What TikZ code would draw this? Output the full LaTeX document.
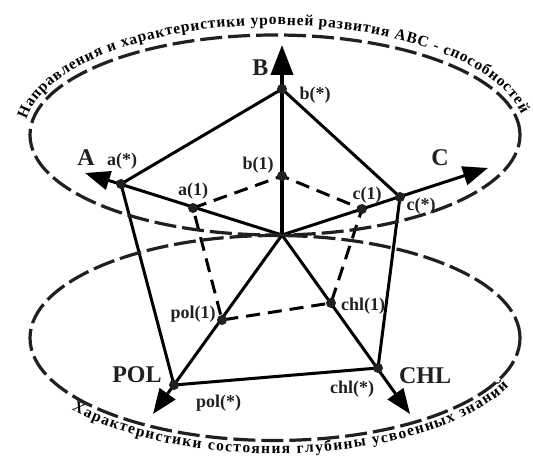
\documentclass[tikz,border=0pt]{standalone}
\usepackage{fontspec}
\setmainfont{Liberation Serif}
\usetikzlibrary{arrows.meta, decorations.text, backgrounds}
\definecolor{ink}{HTML}{231F20}
\newcommand{\arcfont}{\fontsize{15.5}{15.5}\selectfont\bfseries}

\begin{document}
\begin{tikzpicture}[x=1pt, y=1pt, color=ink,
    dot/.style={circle, fill=ink, inner sep=0pt, minimum size=10pt},
    lbl/.style={inner sep=0pt, font=\fontsize{18}{18}\selectfont\bfseries},
    big/.style={inner sep=0pt, font=\fontsize{24}{24}\selectfont\bfseries},
    axis/.style={line width=3pt, -{Triangle[length=25pt, width=19pt]}},
    outer/.style={line width=3pt, line join=round},
    inner/.style={line width=3pt, dash pattern=on 14pt off 8pt},
    ring/.style={line width=3.2pt, dash pattern=on 22pt off 6pt},
]
    \useasboundingbox (0,0) rectangle (533,458);

    % rings
    \draw[ring] (275,323) ellipse [x radius=245, y radius=100];
    \draw[ring] (275,120) ellipse [x radius=245, y radius=102.5];
    \path[decorate, decoration={text along path, text align=fit to path,
        text={|\arcfont|Направления и характеристики уровней развития АВС - способностей}}]
        (275,323) ++(172:251 and 110) arc[start angle=172, end angle=11, x radius=251, y radius=110];
    \path[decorate, decoration={text along path, text align=fit to path,
        text={|\arcfont|Характеристики состояния глубины усвоенных знаний}}]
        (275,120) ++(218:258 and 115.5) arc[start angle=218, end angle=335, x radius=258, y radius=115.5];

    % points
    \coordinate (o) at (282,223);
    \coordinate (tipA) at (85,285);
    \coordinate (tipB) at (282,413);
    \coordinate (tipC) at (488,290);
    \coordinate (tipPOL) at (153,44);
    \coordinate (tipCHL) at (410,44);
    \node[dot] (as) at (121,274) {};
    \node[dot] (bs) at (282,369) {};
    \node[dot] (cs) at (400,261) {};
    \node[dot] (pols) at (174,73) {};
    \node[dot] (chls) at (378,90) {};
    \node[dot] (a1) at (193,250) {};
    \node[dot] (b1) at (282,282) {};
    \node[dot] (c1) at (362,249) {};
    \node[dot] (pol1) at (222,138) {};
    \node[dot] (chl1) at (331,155) {};

    % axes and levels
    \begin{scope}[on background layer]
        \draw[line width=3.8pt, -{Triangle[length=30pt, width=22pt]}] (o) -- (tipB);
        \draw[axis] (o) -- (tipA);
        \draw[axis] (o) -- (tipC);
        \draw[axis] (o) -- (tipPOL);
        \draw[axis] (o) -- (tipCHL);
        \draw[outer] (as.center) -- (bs.center) -- (cs.center) -- (chls.center) -- (pols.center) -- cycle;
        \draw[inner] (a1.center) -- (b1.center) -- (c1.center) -- (chl1.center) -- (pol1.center) -- cycle;
    \end{scope}

    % labels
    \node[big] (lblA) at (86,300.5) {A};
    \node[big] (lblB) at (260.5,390) {B};
    \node[big] (lblC) at (440,300.5) {C};
    \node[big] (lblPOL) at (137,83) {POL};
    \node[big] (lblCHL) at (425,82.5) {CHL};
    \node[lbl] (lblas) at (122,296.5) {a(*)};
    \node[lbl] (lblbs) at (315,363) {b(*)};
    \node[lbl] (lblcs) at (421,252) {c(*)};
    \node[lbl] (lblpols) at (218.5,55) {pol(*)};
    \node[lbl] (lblchls) at (352,69) {chl(*)};
    \node[lbl] (lbla1) at (193,267) {a(1)};
    \node[lbl] (lblb1) at (258,293) {b(1)};
    \node[lbl] (lblc1) at (367,263) {c(1)};
    \node[lbl] (lblpol1) at (193,144) {pol(1)};
    \node[lbl] (lblchl1) at (363,152) {chl(1)};
\end{tikzpicture}
\end{document}
